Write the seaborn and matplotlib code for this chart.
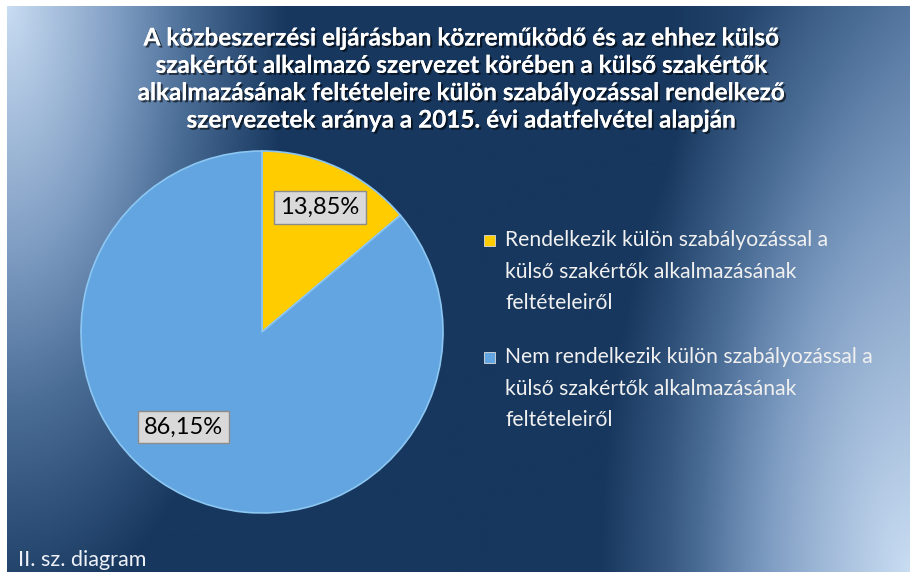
import numpy as np
import matplotlib
matplotlib.use("Agg")
import matplotlib.pyplot as plt
import matplotlib.patheffects as pe
from matplotlib.colors import LinearSegmentedColormap
from matplotlib.patches import Rectangle
import seaborn as sns

# adatok
categories = [
    "Rendelkezik külön szabályozással a\nkülső szakértők alkalmazásának\nfeltételeiről",
    "Nem rendelkezik külön szabályozással a\nkülső szakértők alkalmazásának\nfeltételeiről",
]
values = [13.85, 86.15]
slice_colors = ["#ffcc00", "#63a5e0"]

title = ("A közbeszerzési eljárásban közreműködő és az ehhez külső\n"
         "szakértőt alkalmazó szervezet körében a külső szakértők\n"
         "alkalmazásának feltételeire külön szabályozással rendelkező\n"
         "szervezetek aránya a 2015. évi adatfelvétel alapján")
footer = "II. sz. diagram"

sns.set_style("white")
plt.rcParams["font.family"] = ["Lato", "DejaVu Sans"]

W, H = 911, 572
fig = plt.figure(figsize=(W / 100, H / 100), dpi=100)
fig.patch.set_facecolor("white")

# háttér: sötétkék, a bal felső és jobb alsó sarok felé világosodik
bw, bh = W - 8, H - 6
bg = fig.add_axes([7 / W, 0, bw / W, bh / H])
bg.set_axis_off()
px, py = np.meshgrid(np.linspace(0, bw, 452), np.linspace(0, bh, 284))
w1 = np.clip(1 - np.hypot(px / 280, py / 620), 0, 1)
w2 = np.clip(1 - np.hypot((bw - px) / 310, (bh - py) / 660), 0, 1)
w3 = 0.3 * np.clip(1 - (bw - px) / 240, 0, 1)
light = 1 - (1 - w1) * (1 - w2) * (1 - w3)
cmap = LinearSegmentedColormap.from_list("bg", [
    (0.0, "#17375e"), (0.35, "#4a6d96"), (0.6, "#7e9cc2"), (1.0, "#c8dcf2")])
bg.imshow(light, cmap=cmap, aspect="auto", extent=[0, 1, 1, 0], vmin=0, vmax=1)
bg.set_xlim(0, 1)
bg.set_ylim(1, 0)

# kördiagram
cx, cy, r = 262, 332, 181
ax = fig.add_axes([(cx - r) / W, (H - cy - r) / H, 2 * r / W, 2 * r / H])
ax.patch.set_alpha(0)
wedges, _, autotexts = ax.pie(
    values, colors=slice_colors, startangle=90, counterclock=False,
    autopct=lambda p: f"{p:.2f}%".replace(".", ","), pctdistance=0.76,
    wedgeprops=dict(edgecolor="#8cc6f2", linewidth=1.2),
    textprops=dict(fontsize=17, color="black"))
ax.set_xlim(-1, 1)
ax.set_ylim(-1, 1)
autotexts[1].set_position((-0.436, -0.525))
for txt in autotexts:
    txt.set_bbox(dict(boxstyle="square,pad=0.25", facecolor="#d9d9d9",
                      edgecolor="#8c8c8c", linewidth=1))

# jelmagyarázat
for i, (lab, col) in enumerate(zip(categories, slice_colors)):
    y0 = 241 + i * 117
    fig.patches.append(Rectangle((484 / W, 1 - (y0 + 5) / H), 11 / W, 11 / H,
                                 transform=fig.transFigure, facecolor=col,
                                 edgecolor="#dddddd", linewidth=0.6))
    fig.text(505 / W, 1 - (y0 - 11) / H, lab, color="#f0f0f0", fontsize=15.2,
             ha="left", va="top", linespacing=1.73)

# cím
fig.text(461 / W, 1 - 79 / H, title, color="white", fontsize=17.5, fontweight="bold",
         ha="center", va="center", linespacing=1.23,
         path_effects=[pe.withSimplePatchShadow(offset=(1.5, -1.5), shadow_rgbFace="black", alpha=0.6),
                       pe.Normal()])

fig.text(18 / W, 1 - 566 / H, footer, color="#eef2f8", fontsize=15.5,
         ha="left", va="baseline")

fig.savefig("out.png", dpi=100)
